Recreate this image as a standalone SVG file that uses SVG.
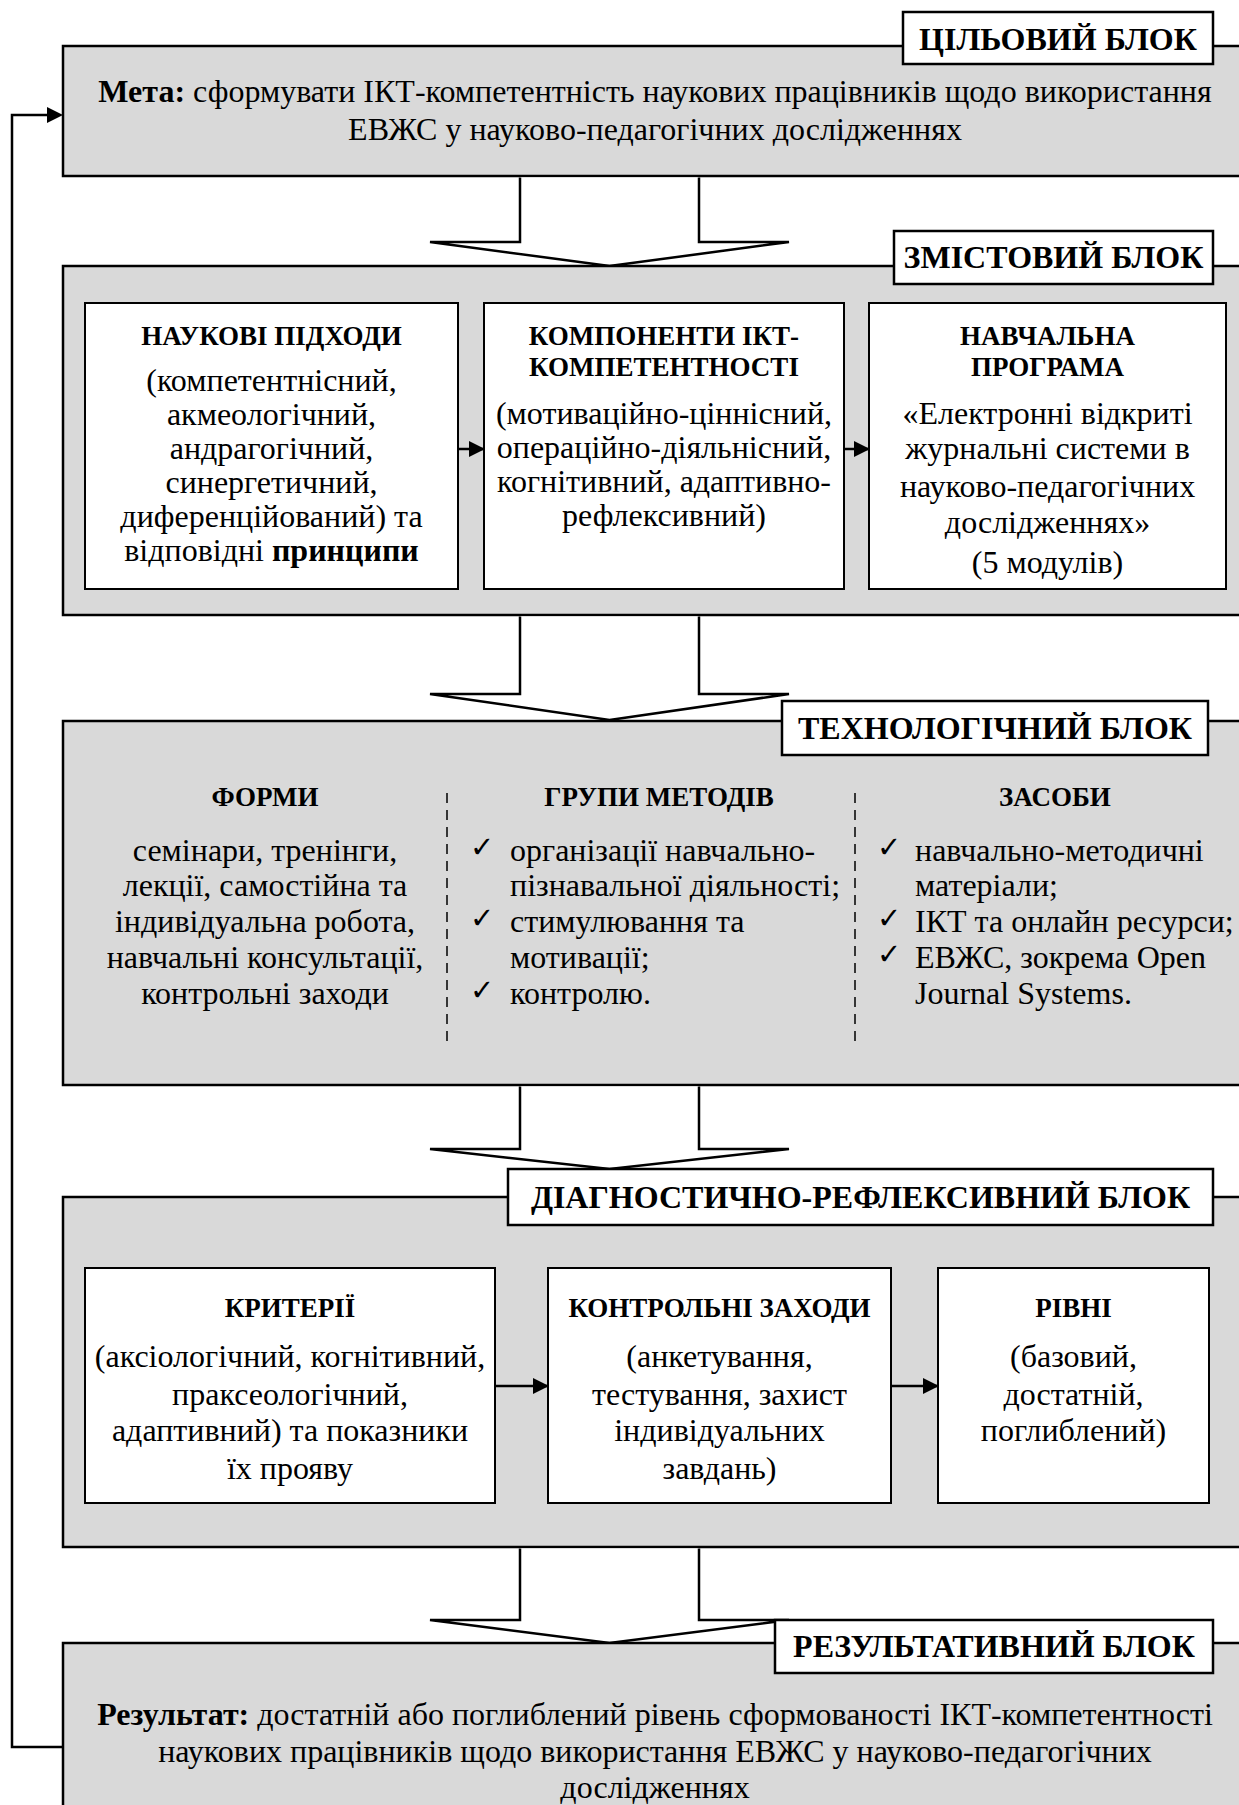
<svg xmlns="http://www.w3.org/2000/svg" width="1239" height="1805" viewBox="0 0 1239 1805">
<style>
.blk{fill:#d9d9d9;stroke:#000;stroke-width:2.5}
.lbl{fill:#fff;stroke:#000;stroke-width:2.5}
.box{fill:#fff;stroke:#000;stroke-width:2}
.arr{fill:#fff;stroke:#000;stroke-width:2.5;stroke-linejoin:miter}
.ln{fill:none;stroke:#000;stroke-width:2.5}
.dash{fill:none;stroke:#000;stroke-width:1.5;stroke-dasharray:10 7}
text{font-family:'Liberation Serif','Times New Roman',serif;fill:#000}
.lt{font-size:32px;font-weight:bold;text-anchor:middle}
.bt{font-size:32px;text-anchor:middle}
.hd{font-size:27px;font-weight:bold;text-anchor:middle}
.tx{font-size:32px;text-anchor:middle}
.tl{font-size:32px}
.ck{font-family:'DejaVu Sans',sans-serif;font-size:29px}
</style>
<defs>
<marker id="ah" markerWidth="16" markerHeight="16" refX="15" refY="8" orient="auto" markerUnits="userSpaceOnUse">
<path d="M0,0 L16,8 L0,16 Z" fill="#000"/>
</marker>
</defs>

<g id="connectors">
<polyline class="ln" points="63,1747 12,1747 12,115 47,115"/>
<polygon points="47,107 63,115 47,123" fill="#000"/>
</g>

<g id="block1">
<rect class="blk" x="63" y="46" width="1200" height="130"/>
<rect class="lbl" x="903" y="12" width="310" height="52"/>
<text class="lt" x="1058" y="50">ЦІЛЬОВИЙ БЛОК</text>
<text class="bt" x="655" y="102"><tspan font-weight="bold">Мета:</tspan> сформувати ІКТ-компетентність наукових працівників щодо використання</text>
<text class="bt" x="655" y="140">ЕВЖС у науково-педагогічних дослідженнях</text>
</g>

<g id="arrow1">
<polyline class="arr" points="520,177.5 520,242 430,242 609.5,266 789,242 699,242 699,177.5"/>
</g>

<g id="block2">
<rect class="blk" x="63" y="266" width="1200" height="349"/>
<rect class="lbl" x="894" y="231" width="319" height="53"/>
<text class="lt" x="1053.5" y="268">ЗМІСТОВИЙ БЛОК</text>
</g>

<g id="approaches">
<rect class="box" x="85" y="303" width="373" height="286"/>
<text class="hd" x="271.5" y="345">НАУКОВІ ПІДХОДИ</text>
<text class="tx" x="271.5" y="391">(компетентнісний,</text>
<text class="tx" x="271.5" y="425">акмеологічний,</text>
<text class="tx" x="271.5" y="459">андрагогічний,</text>
<text class="tx" x="271.5" y="493">синергетичний,</text>
<text class="tx" x="271.5" y="527">диференційований) та</text>
<text class="tx" x="271.5" y="561">відповідні <tspan font-weight="bold">принципи</tspan></text>
</g>

<g id="components">
<rect class="box" x="484" y="303" width="360" height="286"/>
<text class="hd" x="664" y="345">КОМПОНЕНТИ ІКТ-</text>
<text class="hd" x="664" y="376">КОМПЕТЕНТНОСТІ</text>
<text class="tx" x="664" y="424">(мотиваційно-ціннісний,</text>
<text class="tx" x="664" y="458">операційно-діяльнісний,</text>
<text class="tx" x="664" y="492">когнітивний, адаптивно-</text>
<text class="tx" x="664" y="526">рефлексивний)</text>
</g>

<g id="program">
<rect class="box" x="869" y="303" width="357" height="286"/>
<text class="hd" x="1047.5" y="345">НАВЧАЛЬНА</text>
<text class="hd" x="1047.5" y="376">ПРОГРАМА</text>
<text class="tx" x="1047.5" y="424">«Електронні відкриті</text>
<text class="tx" x="1047.5" y="459">журнальні системи в</text>
<text class="tx" x="1047.5" y="497">науково-педагогічних</text>
<text class="tx" x="1047.5" y="533">дослідженнях»</text>
<text class="tx" x="1047.5" y="573">(5 модулів)</text>
</g>

<g id="inner-connectors-1">
<line class="ln" x1="458" y1="449" x2="484" y2="449" stroke-width="2" marker-end="url(#ah)"/>
<line class="ln" x1="844" y1="449" x2="869" y2="449" stroke-width="2" marker-end="url(#ah)"/>
</g>

<g id="arrow2">
<polyline class="arr" points="520,616.5 520,694 430,694 609.5,720 789,694 699,694 699,616.5"/>
</g>

<g id="block3">
<rect class="blk" x="63" y="721" width="1200" height="364"/>
<rect class="lbl" x="782" y="701" width="426" height="54"/>
<text class="lt" x="995" y="739">ТЕХНОЛОГІЧНИЙ БЛОК</text>
<line class="dash" x1="447" y1="793" x2="447" y2="1048"/>
<line class="dash" x1="855" y1="793" x2="855" y2="1048"/>
</g>

<g id="forms">
<text class="hd" x="265" y="806">ФОРМИ</text>
<text class="tx" x="265" y="861">семінари, тренінги,</text>
<text class="tx" x="265" y="896">лекції, самостійна та</text>
<text class="tx" x="265" y="932">індивідуальна робота,</text>
<text class="tx" x="265" y="968">навчальні консультації,</text>
<text class="tx" x="265" y="1004">контрольні заходи</text>
</g>

<g id="methods">
<text class="hd" x="659" y="806">ГРУПИ МЕТОДІВ</text>
<text class="ck" x="470" y="857">✓</text>
<text class="tl" x="510" y="861">організації навчально-</text>
<text class="tl" x="510" y="896">пізнавальної діяльності;</text>
<text class="ck" x="470" y="928">✓</text>
<text class="tl" x="510" y="932">стимулювання та</text>
<text class="tl" x="510" y="968">мотивації;</text>
<text class="ck" x="470" y="1000">✓</text>
<text class="tl" x="510" y="1004">контролю.</text>
</g>

<g id="means">
<text class="hd" x="1055" y="806">ЗАСОБИ</text>
<text class="ck" x="877" y="857">✓</text>
<text class="tl" x="915" y="861">навчально-методичні</text>
<text class="tl" x="915" y="896">матеріали;</text>
<text class="ck" x="877" y="928">✓</text>
<text class="tl" x="915" y="932">ІКТ та онлайн ресурси;</text>
<text class="ck" x="877" y="964">✓</text>
<text class="tl" x="915" y="968">ЕВЖС, зокрема Open</text>
<text class="tl" x="915" y="1004">Journal Systems.</text>
</g>

<g id="arrow3">
<polyline class="arr" points="520,1086.5 520,1149 430,1149 609.5,1169 789,1149 699,1149 699,1086.5"/>
</g>

<g id="block4">
<rect class="blk" x="63" y="1197" width="1200" height="350"/>
<rect class="lbl" x="508" y="1169" width="705" height="56"/>
<text class="lt" x="860.5" y="1208">ДІАГНОСТИЧНО-РЕФЛЕКСИВНИЙ БЛОК</text>
</g>

<g id="criteria">
<rect class="box" x="85" y="1268" width="410" height="235"/>
<text class="hd" x="290" y="1317">КРИТЕРІЇ</text>
<text class="tx" x="290" y="1367">(аксіологічний, когнітивний,</text>
<text class="tx" x="290" y="1405">праксеологічний,</text>
<text class="tx" x="290" y="1441">адаптивний) та показники</text>
<text class="tx" x="290" y="1479">їх прояву</text>
</g>

<g id="control">
<rect class="box" x="548" y="1268" width="343" height="235"/>
<text class="hd" x="719.5" y="1317">КОНТРОЛЬНІ ЗАХОДИ</text>
<text class="tx" x="719.5" y="1367">(анкетування,</text>
<text class="tx" x="719.5" y="1405">тестування, захист</text>
<text class="tx" x="719.5" y="1441">індивідуальних</text>
<text class="tx" x="719.5" y="1479">завдань)</text>
</g>

<g id="levels">
<rect class="box" x="938" y="1268" width="271" height="235"/>
<text class="hd" x="1073.5" y="1317">РІВНІ</text>
<text class="tx" x="1073.5" y="1367">(базовий,</text>
<text class="tx" x="1073.5" y="1405">достатній,</text>
<text class="tx" x="1073.5" y="1441">поглиблений)</text>
</g>

<g id="inner-connectors-2">
<line class="ln" x1="495" y1="1386" x2="548" y2="1386" stroke-width="2.5" marker-end="url(#ah)"/>
<line class="ln" x1="891" y1="1386" x2="938" y2="1386" stroke-width="2.5" marker-end="url(#ah)"/>
</g>

<g id="arrow4">
<polyline class="arr" points="520,1548.5 520,1620 430,1620 609.5,1643 789,1620 699,1620 699,1548.5"/>
</g>

<g id="block5">
<rect class="blk" x="63" y="1643" width="1200" height="200"/>
<rect class="lbl" x="775" y="1620" width="438" height="53"/>
<text class="lt" x="994" y="1657">РЕЗУЛЬТАТИВНИЙ БЛОК</text>
<text class="bt" x="655" y="1725"><tspan font-weight="bold">Результат:</tspan> достатній або поглиблений рівень сформованості ІКТ-компетентності</text>
<text class="bt" x="655" y="1762">наукових працівників щодо використання ЕВЖС у науково-педагогічних</text>
<text class="bt" x="655" y="1798">дослідженнях</text>
</g>
</svg>
